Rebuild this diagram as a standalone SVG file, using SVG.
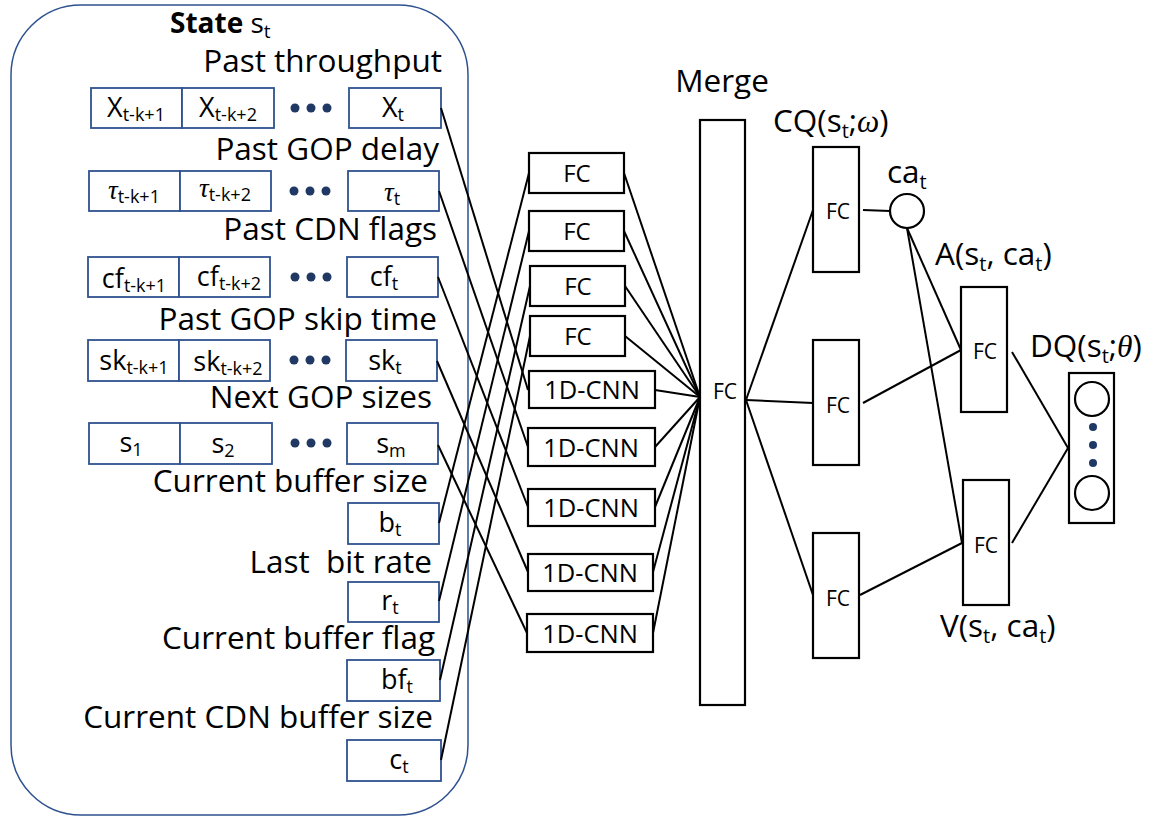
<svg xmlns="http://www.w3.org/2000/svg" width="1161" height="816" viewBox="0 0 1161 816">
<style>
text{font-family:"Open Sans","Noto Sans","Liberation Sans",sans-serif;fill:#000}
.lbl{font-size:31.5px}
.in{font-size:27px;text-anchor:middle}
.sm{font-size:24px;text-anchor:middle}
.xs{font-size:21px;text-anchor:middle}
.cnn{font-size:25.5px;text-anchor:middle}
.r{text-anchor:end}
.frame{fill:none;stroke:#2F528F;stroke-width:1.5}
.box{fill:#fff;stroke:#2F528F;stroke-width:1.8}
.nn{fill:#fff;stroke:#000;stroke-width:2.2}
.ln{stroke:#000;stroke-width:2;fill:none}
.dot{fill:#1F3864}
.m{font-family:"Liberation Serif","DejaVu Serif",serif;font-style:italic}
</style>
<defs>
<g id="dots"><circle cx="0" cy="0" r="4.5" class="dot"/><circle cx="16" cy="0" r="4.5" class="dot"/><circle cx="32" cy="0" r="4.5" class="dot"/></g>
</defs>

<g id="state">
<rect x="11" y="5" width="457" height="810" rx="70" class="frame"/>
<text x="170" y="33" font-size="28"><tspan font-weight="bold">State</tspan> s<tspan font-size="19" dy="5">t</tspan></text>
<text x="442" y="72" class="lbl r">Past throughput</text>
<text x="439" y="160" class="lbl r">Past GOP delay</text>
<text x="437" y="240" class="lbl r">Past CDN flags</text>
<text x="437" y="330" class="lbl r">Past GOP skip time</text>
<text x="432" y="408" class="lbl r">Next GOP sizes</text>
<text x="428" y="492" class="lbl r">Current buffer size</text>
<text x="432" y="573" class="lbl r" xml:space="preserve">Last  bit rate</text>
<text x="435" y="649" class="lbl r">Current buffer flag</text>
<text x="433" y="728" class="lbl r">Current CDN buffer size</text>
</g>

<g id="row-throughput">
<rect x="91" y="88" width="91" height="40" class="box"/>
<rect x="182" y="88" width="92" height="40" class="box"/>
<use href="#dots" x="295" y="108"/>
<rect x="349" y="88" width="92" height="40" class="box"/>
<text x="136" y="117" class="in">X<tspan font-size="18" dy="4">t-k+1</tspan></text>
<text x="228" y="117" class="in">X<tspan font-size="18" dy="4">t-k+2</tspan></text>
<text x="393" y="117" class="in">X<tspan font-size="18" dy="4">t</tspan></text>
</g>

<g id="row-delay">
<rect x="89" y="171" width="91" height="40" class="box"/>
<rect x="180" y="171" width="91" height="40" class="box"/>
<use href="#dots" x="294" y="191"/>
<rect x="348" y="171" width="91" height="40" class="box"/>
<text x="134" y="199" class="in"><tspan class="m">τ</tspan><tspan font-size="18" dy="4">t-k+1</tspan></text>
<text x="225" y="197" class="in"><tspan class="m">τ</tspan><tspan font-size="18" dy="4">t-k+2</tspan></text>
<text x="392" y="201" class="in"><tspan class="m">τ</tspan><tspan font-size="18" dy="4">t</tspan></text>
</g>

<g id="row-cdnflags">
<rect x="88" y="257" width="91" height="40" class="box"/>
<rect x="179" y="257" width="91" height="40" class="box"/>
<use href="#dots" x="295" y="277"/>
<rect x="347" y="257" width="91" height="40" class="box"/>
<text x="134" y="288" class="in">cf<tspan font-size="18" dy="4">t-k+1</tspan></text>
<text x="229" y="286" class="in">cf<tspan font-size="18" dy="4">t-k+2</tspan></text>
<text x="384" y="286" class="in">cf<tspan font-size="18" dy="4">t</tspan></text>
</g>

<g id="row-skip">
<rect x="88" y="340" width="91" height="41" class="box"/>
<rect x="179" y="340" width="91" height="41" class="box"/>
<use href="#dots" x="294" y="360"/>
<rect x="346" y="340" width="91" height="41" class="box"/>
<text x="134" y="370" class="in">sk<tspan font-size="18" dy="4">t-k+1</tspan></text>
<text x="228" y="371" class="in">sk<tspan font-size="18" dy="4">t-k+2</tspan></text>
<text x="385" y="370" class="in">sk<tspan font-size="18" dy="4">t</tspan></text>
</g>

<g id="row-gopsizes">
<rect x="89" y="423" width="91" height="41" class="box"/>
<rect x="180" y="423" width="92" height="41" class="box"/>
<use href="#dots" x="295" y="443"/>
<rect x="347" y="423" width="91" height="41" class="box"/>
<text x="131" y="452" class="in">s<tspan font-size="18" dy="4">1</tspan></text>
<text x="223" y="453" class="in">s<tspan font-size="18" dy="4">2</tspan></text>
<text x="391" y="453" class="in">s<tspan font-size="18" dy="4">m</tspan></text>
</g>

<g id="scalar-b"><rect x="348" y="503" width="91" height="41" class="box"/><text x="390" y="532" class="in">b<tspan font-size="18" dy="4">t</tspan></text></g>
<g id="scalar-r"><rect x="348" y="582" width="91" height="40" class="box"/><text x="390" y="610" class="in">r<tspan font-size="18" dy="4">t</tspan></text></g>
<g id="scalar-bf"><rect x="347" y="660" width="93" height="41" class="box"/><text x="397" y="689" class="in">bf<tspan font-size="18" dy="4">t</tspan></text></g>
<g id="scalar-c"><rect x="347" y="740" width="94" height="41" class="box"/><text x="399" y="769" class="in">c<tspan font-size="18" dy="4">t</tspan></text></g>

<g id="fc1"><rect x="529" y="153" width="95" height="40" class="nn"/><text x="577" y="182" class="sm">FC</text></g>
<g id="fc2"><rect x="529" y="211" width="95" height="40" class="nn"/><text x="577" y="240" class="sm">FC</text></g>
<g id="fc3"><rect x="530" y="266" width="95" height="40" class="nn"/><text x="578" y="295" class="sm">FC</text></g>
<g id="fc4"><rect x="530" y="316" width="95" height="40" class="nn"/><text x="578" y="345" class="sm">FC</text></g>
<g id="cnn1"><rect x="529" y="371" width="126" height="37" class="nn"/><text x="592" y="399" class="cnn">1D-CNN</text></g>
<g id="cnn2"><rect x="528" y="428" width="127" height="38" class="nn"/><text x="591" y="457" class="cnn">1D-CNN</text></g>
<g id="cnn3"><rect x="528" y="489" width="127" height="37" class="nn"/><text x="591" y="517" class="cnn">1D-CNN</text></g>
<g id="cnn4"><rect x="528" y="554" width="125" height="37" class="nn"/><text x="590" y="582" class="cnn">1D-CNN</text></g>
<g id="cnn5"><rect x="527" y="614" width="126" height="38" class="nn"/><text x="590" y="643" class="cnn">1D-CNN</text></g>

<g id="merge">
<text x="722" y="92" class="lbl" text-anchor="middle">Merge</text>
<rect x="700" y="120" width="45" height="585" class="nn"/>
<text x="725" y="399" class="xs">FC</text>
</g>

<g id="cq">
<text x="773" y="132" class="lbl">CQ(s<tspan font-size="20" dy="6">t</tspan><tspan dy="-6">;</tspan><tspan class="m">ω</tspan>)</text>
<rect x="813" y="147" width="46" height="125" class="nn"/>
<text x="838" y="219" class="xs">FC</text>
</g>
<g id="ca">
<text x="887" y="183" class="lbl">ca<tspan font-size="20" dy="6">t</tspan></text>
<circle cx="907" cy="211" r="17" class="nn"/>
</g>
<g id="fc-mid"><rect x="813" y="340" width="46" height="125" class="nn"/><text x="838" y="413" class="xs">FC</text></g>
<g id="fc-bot"><rect x="813" y="533" width="46" height="125" class="nn"/><text x="838" y="606" class="xs">FC</text></g>
<g id="adv">
<text x="935" y="265" class="lbl">A(s<tspan font-size="20" dy="6">t</tspan><tspan dy="-6">, ca</tspan><tspan font-size="20" dy="6">t</tspan><tspan dy="-6">)</tspan></text>
<rect x="961" y="287" width="46" height="125" class="nn"/>
<text x="985" y="359" class="xs">FC</text>
</g>
<g id="val">
<rect x="963" y="480" width="46" height="125" class="nn"/>
<text x="986" y="553" class="xs">FC</text>
<text x="940" y="637" class="lbl">V(s<tspan font-size="20" dy="6">t</tspan><tspan dy="-6">, ca</tspan><tspan font-size="20" dy="6">t</tspan><tspan dy="-6">)</tspan></text>
</g>
<g id="dq">
<text x="1030" y="357" class="lbl">DQ(s<tspan font-size="20" dy="6">t</tspan><tspan dy="-6">;</tspan><tspan class="m">θ</tspan>)</text>
<rect x="1069" y="373" width="45" height="150" class="nn"/>
<circle cx="1092" cy="399" r="17" class="nn"/>
<circle cx="1092" cy="493" r="17" class="nn"/>
<circle cx="1093" cy="427" r="4" class="dot"/>
<circle cx="1093" cy="445" r="4" class="dot"/>
<circle cx="1093" cy="463" r="4" class="dot"/>
</g>

<g id="connectors" class="ln">
<path d="M441,108 L528,390"/>
<path d="M439,191 L528,447"/>
<path d="M438,277 L528,507"/>
<path d="M437,361 L528,572"/>
<path d="M438,445 L527,633"/>
<path d="M439,523 L529,173"/>
<path d="M439,601 L529,231"/>
<path d="M440,680 L530,286"/>
<path d="M441,760 L530,336"/>
<path d="M624,173 L700,397"/>
<path d="M624,231 L700,397"/>
<path d="M625,286 L700,397"/>
<path d="M625,336 L700,397"/>
<path d="M655,390 L700,397"/>
<path d="M655,447 L700,397"/>
<path d="M655,507 L700,397"/>
<path d="M653,572 L700,397"/>
<path d="M653,633 L700,397"/>
<path d="M746,400 L813,210"/>
<path d="M746,400 L813,403"/>
<path d="M746,400 L813,595"/>
<path d="M863,210 L890,211"/>
<path d="M907,228 L961,350"/>
<path d="M907,228 L962,543"/>
<path d="M863,403 L961,350"/>
<path d="M860,595 L962,543"/>
<path d="M1012,352 L1068,448"/>
<path d="M1012,543 L1068,448"/>
</g>
</svg>
